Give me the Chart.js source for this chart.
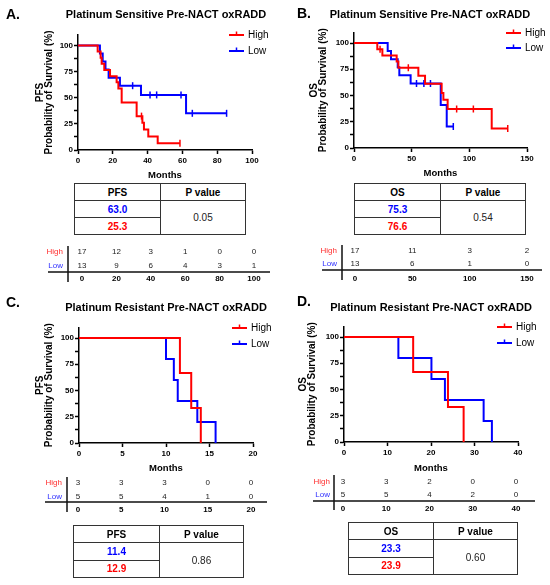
<!DOCTYPE html>
<html>
<head>
<meta charset="utf-8">
<script src="https://cdn.jsdelivr.net/npm/chart.js@4.4.1/dist/chart.umd.min.js"></script>
<style>
  body { margin: 0; background: #fff; }
  #fig { position: relative; width: 550px; height: 585px; overflow: hidden; font-family: "Liberation Sans", Arial, sans-serif; }
  #fig canvas { position: absolute; }
  table.med { position: absolute; border-collapse: collapse; table-layout: fixed; font-size: 10px; }
  table.med td, table.med th { border: 1.5px solid #333; text-align: center; vertical-align: middle; padding: 0; }
  table.med th { font-weight: bold; color: #000; }
  table.med td { color: #222; }
  table.med td.lo { color: #0000ff; font-weight: bold; }
  table.med td.hi { color: #ff0000; font-weight: bold; }
</style>
</head>
<body>
<div id="fig"></div>
<script>
// ---- data: Kaplan-Meier steps (months, % surviving, 1 = censored) ----
// A. platinum sensitive, PFS
const pfsSensHighT = [0, 11.3, 13.0, 13.6, 15.1, 18.4, 22.2, 23.2, 25.1, 33.7, 36.5, 37.0, 37.9, 40.4, 45.8, 58.6];
const pfsSensHighS = [100, 94.1, 88.2, 82.4, 76.5, 70.6, 64.7, 58.8, 45.5, 32.4, 32.4, 26.0, 19.5, 13.0, 6.5, 6.5];
const pfsSensHighC = [0, 0, 0, 0, 0, 0, 0, 0, 0, 0, 1, 0, 0, 0, 0, 1];
const pfsSensLowT = [0, 12.6, 14.2, 15.8, 17.6, 24.1, 31.4, 36.2, 41.4, 45.2, 59.2, 62.1, 65.7, 85.4];
const pfsSensLowS = [100, 92.3, 84.6, 76.9, 69.2, 61.5, 61.5, 52.7, 52.7, 52.7, 52.7, 35.1, 35.1, 35.1];
const pfsSensLowC = [0, 0, 0, 0, 0, 0, 1, 0, 1, 1, 1, 0, 1, 1];
// B. platinum sensitive, OS
const osSensHighT = [0, 20.2, 22.6, 24.6, 37.0, 38.5, 47.1, 55.8, 61.6, 76.0, 77.5, 81.2, 89.0, 103.5, 119.4, 133.3];
const osSensHighS = [100, 94.1, 94.1, 88.2, 82.4, 76.5, 76.5, 68.9, 61.2, 52.5, 45.9, 37.1, 37.1, 37.1, 18.6, 18.6];
const osSensHighC = [0, 0, 1, 0, 0, 0, 1, 0, 0, 0, 0, 0, 1, 1, 0, 1];
const osSensLowT = [0, 29.2, 32.1, 37.9, 39.3, 49.1, 54.2, 60.6, 66.3, 75.2, 80.4, 86.1];
const osSensLowS = [100, 92.3, 84.6, 76.9, 69.2, 61.5, 61.5, 61.5, 61.5, 41.0, 20.5, 20.5];
const osSensLowC = [0, 0, 0, 0, 0, 0, 1, 1, 1, 0, 0, 1];
// C. platinum resistant, PFS
const pfsResHighT = [0, 11.6, 12.9, 14.0];
const pfsResHighS = [100, 66.7, 33.3, 0];
const pfsResHighC = [0, 0, 0, 0];
const pfsResLowT = [0, 10.0, 10.9, 11.35, 13.6, 15.7];
const pfsResLowS = [100, 80, 60, 40, 20, 0];
const pfsResLowC = [0, 0, 0, 0, 0, 0];
// D. platinum resistant, OS
const osResHighT = [0, 15.9, 23.9, 27.5];
const osResHighS = [100, 66.7, 33.3, 0];
const osResHighC = [0, 0, 0, 0];
const osResLowT = [0, 12.5, 20.1, 23.2, 32.1, 34.0];
const osResLowS = [100, 80, 60, 40, 20, 0];
const osResLowC = [0, 0, 0, 0, 0, 0];

// number at risk
const riskTimesA = [0, 20, 40, 60, 80, 100];
const riskHighA = [17, 12, 3, 1, 0, 0];
const riskLowA = [13, 9, 6, 4, 3, 1];
const riskTimesB = [0, 50, 100, 150];
const riskHighB = [17, 11, 3, 2];
const riskLowB = [13, 6, 1, 0];
const riskTimesC = [0, 5, 10, 15, 20];
const riskHighC = [3, 3, 3, 0, 0];
const riskLowC = [5, 5, 4, 1, 0];
const riskTimesD = [0, 10, 20, 30, 40];
const riskHighD = [3, 3, 2, 0, 0];
const riskLowD = [5, 5, 4, 2, 0];

// median survival (months) and log-rank p
const medianLow = [63.0, 75.3, 11.4, 23.3];
const medianHigh = [25.3, 76.6, 12.9, 23.9];
const pValues = ['0.05', '0.54', '0.86', '0.60'];

const panelTitles = ['Platinum Sensitive Pre-NACT oxRADD', 'Platinum Sensitive Pre-NACT oxRADD',
  'Platinum Resistant Pre-NACT oxRADD', 'Platinum Resistant Pre-NACT oxRADD'];
const panelLetters = ['A.', 'B.', 'C.', 'D.'];
const endpoints = ['PFS', 'OS', 'PFS', 'OS'];
const groups = ['High', 'Low'];

const RED = '#ff0000', BLUE = '#0000ff';
const FONT = '"Liberation Sans", Arial, sans-serif';
Chart.defaults.font.family = FONT;
Chart.defaults.color = '#000';

const fig = document.getElementById('fig');

function kmPoints(t, s, c) {
  return t.map((x, i) => ({ x: x, y: s[i], c: c[i] }));
}

// layout of each panel (canvas boxes and plot areas, in px)
const panels = [
  { km: [0, 0, 275, 182], area: [78, 252, 35, 150], xMax: 100, xStep: 20, yTitle: 40, monthsPad: 2,
    title: [166, 15], letter: [6, 15], legend: [229, 35, 16],
    high: kmPoints(pfsSensHighT, pfsSensHighS, pfsSensHighC), low: kmPoints(pfsSensLowT, pfsSensLowS, pfsSensLowC),
    risk: [0, 240, 275, 46], rarea: [82, 254, 5, 33], rpad: 19, rtick: 1, cross: [68, 6, 42, 32, 48, 270],
    rt: riskTimesA, rh: riskHighA, rl: riskLowA, table: [74, 183, 172, 51, 86] },
  { km: [275, 0, 275, 182], area: [79, 252, 32.5, 148], xMax: 150, xStep: 50, yTitle: 39, monthsPad: 4,
    title: [155, 15], letter: [22, 14], legend: [231, 33, 15],
    high: kmPoints(osSensHighT, osSensHighS, osSensHighC), low: kmPoints(osSensLowT, osSensLowS, osSensLowC),
    risk: [275, 240, 275, 46], rarea: [80, 252, 4.5, 30.5], rpad: 18, rtick: 3, cross: [67, 5, 40, 30, 47, 267],
    rt: riskTimesB, rh: riskHighB, rl: riskLowB, table: [354, 183, 172, 51, 86] },
  { km: [0, 290, 275, 185], area: [79, 253, 37.5, 153], xMax: 20, xStep: 5, yTitle: 40, monthsPad: 2,
    title: [166, 18], letter: [6, 13], legend: [232, 38, 16],
    high: kmPoints(pfsResHighT, pfsResHighS, pfsResHighC), low: kmPoints(pfsResLowT, pfsResLowS, pfsResLowC),
    risk: [0, 470, 275, 46], rarea: [78, 251, 6, 34], rpad: 16, rtick: 1, cross: [67, 7, 42, 32, 45, 267],
    rt: riskTimesC, rh: riskHighC, rl: riskLowC, table: [73, 525, 171, 52, 86] },
  { km: [275, 290, 275, 185], area: [69, 243, 36.5, 152], xMax: 40, xStep: 10, yTitle: 28, monthsPad: 2,
    title: [156, 18], letter: [22, 12], legend: [222, 37, 16],
    high: kmPoints(osResHighT, osResHighS, osResHighC), low: kmPoints(osResLowT, osResLowS, osResLowC),
    risk: [275, 470, 275, 46], rarea: [68, 241, 5.5, 31.5], rpad: 13, rtick: 2, cross: [59, 5, 40, 31, 38, 260],
    rt: riskTimesD, rh: riskHighD, rl: riskLowD, table: [348, 522, 170, 52, 85] }
];

function makeCanvas(box) {
  const cv = document.createElement('canvas');
  cv.width = box[2];
  cv.height = box[3];
  cv.style.left = box[0] + 'px';
  cv.style.top = box[1] + 'px';
  fig.appendChild(cv);
  return cv;
}

const headerPlugin = (p, i) => ({
  id: 'header',
  afterDraw(chart) {
    const ctx = chart.ctx;
    ctx.save();
    ctx.fillStyle = '#000';
    ctx.textBaseline = 'middle';
    ctx.textAlign = 'left';
    ctx.font = 'bold 14px ' + FONT;
    ctx.fillText(panelLetters[i], p.letter[0], p.letter[1]);
    ctx.textAlign = 'center';
    ctx.font = 'bold 11px ' + FONT;
    ctx.fillText(panelTitles[i], p.title[0], p.title[1]);
    ctx.restore();
  }
});

// GraphPad-style legend: short line with a censor tick, sitting inside the plot
const legendPlugin = p => ({
  id: 'kmLegend',
  afterDraw(chart) {
    const ctx = chart.ctx;
    const [lx, ly, gap] = p.legend;
    ctx.save();
    chart.data.datasets.forEach((ds, k) => {
      const y = ly + k * gap;
      ctx.strokeStyle = ds.borderColor;
      ctx.lineWidth = 2;
      ctx.beginPath();
      ctx.moveTo(lx, y);
      ctx.lineTo(lx + 15, y);
      ctx.stroke();
      ctx.lineWidth = 1.5;
      ctx.beginPath();
      ctx.moveTo(lx + 7.5, y - 3.5);
      ctx.lineTo(lx + 7.5, y);
      ctx.stroke();
      ctx.fillStyle = '#000';
      ctx.font = '10px ' + FONT;
      ctx.textAlign = 'left';
      ctx.textBaseline = 'middle';
      ctx.fillText(ds.label, lx + 19, y);
    });
    ctx.restore();
  }
});

function kmChart(p, i) {
  const cv = makeCanvas(p.km);
  const [L, R, T, B] = p.area;
  const curve = (label, color, pts) => ({
    label: label,
    data: pts,
    borderColor: color,
    backgroundColor: color,
    borderWidth: 2,
    stepped: true,
    fill: false,
    pointStyle: 'line',
    rotation: 90,
    pointRadius: ctx => (ctx.raw && ctx.raw.c ? 3.5 : 0),
    pointBorderWidth: 1.5,
    pointHoverRadius: 0
  });
  const axisGrid = { drawOnChartArea: false, drawTicks: true, tickLength: 4, tickWidth: 1.5, tickColor: '#000' };
  new Chart(cv, {
    type: 'line',
    data: { datasets: [curve(groups[0], RED, p.high), curve(groups[1], BLUE, p.low)] },
    options: {
      responsive: false,
      animation: false,
      events: [],
      layout: { padding: { left: 0, top: T, right: p.km[2] - R, bottom: 0 } },
      plugins: { legend: { display: false }, tooltip: { enabled: false } },
      scales: {
        x: {
          type: 'linear', min: 0, max: p.xMax,
          ticks: { stepSize: p.xStep, font: { size: 8, weight: 'bold' }, padding: 2, maxRotation: 0 },
          grid: axisGrid,
          border: { color: '#000', width: 1.5 },
          title: { display: true, text: 'Months', font: { size: 9.5, weight: 'bold', lineHeight: 1 }, padding: { top: 0, bottom: p.monthsPad } },
          afterFit: s => { s.height = p.km[3] - B; }
        },
        y: {
          type: 'linear', min: 0, max: 110,
          ticks: { stepSize: 12.5, includeBounds: false, font: { size: 8, weight: 'bold' }, padding: 1,
            callback: v => (v % 25 === 0 ? v : '') },
          grid: axisGrid,
          border: { color: '#000', width: 1.5 },
          title: { display: true, text: [endpoints[i], 'Probability of Survival (%)'],
            font: { size: 10, weight: 'bold', lineHeight: 0.95 }, padding: { top: p.yTitle - 4.75, bottom: 0 } },
          afterFit: s => { s.width = L; }
        }
      }
    },
    plugins: [headerPlugin(p, i), legendPlugin(p)]
  });
}

// number-at-risk strip: values and cross lines placed on its own x scale
const riskPlugin = p => ({
  id: 'riskTable',
  afterDraw(chart) {
    const ctx = chart.ctx;
    ctx.save();
    ctx.fillStyle = '#222';
    ctx.font = '8px ' + FONT;
    ctx.textAlign = 'center';
    ctx.textBaseline = 'middle';
    chart.data.datasets.forEach((ds, k) => {
      chart.getDatasetMeta(k).data.forEach((pt, j) => {
        ctx.fillText(String(ds.data[j].n), pt.x, pt.y);
      });
    });
    const [vx, vt, vb, hy, hl, hr] = p.cross;
    ctx.strokeStyle = '#111';
    ctx.lineWidth = 1.5;
    ctx.beginPath();
    ctx.moveTo(vx, vt);
    ctx.lineTo(vx, vb);
    ctx.moveTo(hl, hy);
    ctx.lineTo(hr, hy);
    ctx.stroke();
    ctx.restore();
  }
});

function riskChart(p) {
  const cv = makeCanvas(p.risk);
  const [L, R, T, B] = p.rarea;
  const row = (g, counts) => ({
    label: g,
    data: p.rt.map((t, j) => ({ x: t, y: g, n: counts[j] })),
    pointRadius: 0,
    pointHoverRadius: 0
  });
  new Chart(cv, {
    type: 'scatter',
    data: { datasets: [row(groups[0], p.rh), row(groups[1], p.rl)] },
    options: {
      responsive: false,
      animation: false,
      events: [],
      layout: { padding: { left: 0, top: T, right: p.risk[2] - R, bottom: 0 } },
      plugins: { legend: { display: false }, tooltip: { enabled: false } },
      scales: {
        x: {
          type: 'linear', min: 0, max: p.xMax,
          ticks: { stepSize: p.xStep, font: { size: 8, weight: 'bold' }, padding: p.rtick, maxRotation: 0 },
          grid: { display: false, drawTicks: false },
          border: { display: false },
          afterFit: s => { s.height = p.risk[3] - B; s.paddingLeft = 0; s.paddingRight = 0; }
        },
        y: {
          type: 'category', labels: groups, offset: true,
          ticks: { font: { size: 8 }, padding: p.rpad, color: c => (c.index === 0 ? '#ff3030' : '#3030ff') },
          grid: { display: false, drawTicks: false },
          border: { display: false },
          // tick padding would otherwise also pad the strip vertically
          afterFit: s => { s.width = L; s.paddingTop = 0; s.paddingBottom = 0; }
        }
      }
    },
    plugins: [riskPlugin(p)]
  });
}

function medianTable(p, i) {
  const [x, y, w, h, c1] = p.table;
  const t = document.createElement('table');
  t.className = 'med';
  t.style.left = x + 'px';
  t.style.top = y + 'px';
  t.style.width = w + 'px';
  t.style.height = h + 'px';
  const rh = (h / 3).toFixed(1) + 'px';
  t.innerHTML =
    '<colgroup><col style="width:' + c1 + 'px"><col></colgroup>' +
    '<tr style="height:' + rh + '"><th>' + endpoints[i] + '</th><th>P value</th></tr>' +
    '<tr style="height:' + rh + '"><td class="lo">' + medianLow[i].toFixed(1) + '</td><td rowspan="2">' + pValues[i] + '</td></tr>' +
    '<tr style="height:' + rh + '"><td class="hi">' + medianHigh[i].toFixed(1) + '</td></tr>';
  fig.appendChild(t);
}

panels.forEach((p, i) => {
  kmChart(p, i);
  riskChart(p);
  medianTable(p, i);
});
</script>
</body>
</html>
